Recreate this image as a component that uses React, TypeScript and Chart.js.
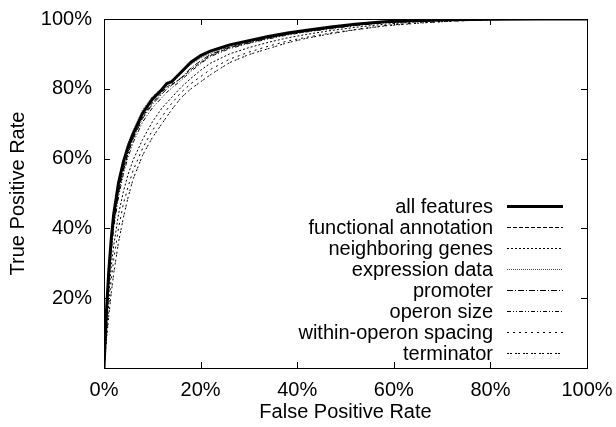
import React, { useEffect, useRef } from "react";
import { Chart, registerables } from "chart.js";

Chart.register(...registerables);

const FPR = [0, 0.5, 1, 1.5, 2, 3, 4, 5, 6, 8, 10, 12, 13, 14, 16, 18, 20, 22, 26, 30, 34, 38, 42, 47, 52, 58, 65, 72, 80, 90, 100];

const ALL_FEATURES = [0, 16, 28, 37, 44, 53, 59, 63.5, 67, 73, 77, 79.8, 81.5, 82, 84.8, 87.6, 89.5, 90.8, 92.6, 93.8, 95, 96, 96.8, 97.7, 98.5, 99.2, 99.6, 99.8, 99.9, 100, 100];
const FUNCTIONAL_ANNOTATION = [0, 14, 26, 35, 42, 51, 57, 62, 66, 72, 76, 79, 80.5, 81.3, 83, 85.5, 87.5, 89.5, 91.8, 93.2, 94.5, 95.6, 96.5, 97.4, 98.3, 99, 99.5, 99.8, 99.9, 100, 100];
const NEIGHBORING_GENES = [0, 11, 21, 29, 35, 44, 50.5, 55.5, 59.5, 65.5, 70.5, 74.5, 76, 77.5, 80.5, 83, 85.3, 87.3, 90, 91.8, 93.3, 94.6, 95.6, 96.7, 97.6, 98.5, 99.2, 99.6, 99.8, 100, 100];
const EXPRESSION_DATA = [0, 15, 27, 36, 43.5, 53, 59.5, 64.5, 68, 74, 77.8, 80.3, 81.8, 82.5, 84.5, 87, 88.8, 90.2, 92.2, 93.5, 94.8, 95.8, 96.6, 97.5, 98.4, 99.1, 99.5, 99.8, 99.9, 100, 100];
const PROMOTER = [0, 13, 25, 34, 41, 50, 56.5, 61.5, 65.5, 71.5, 75.5, 78.5, 80, 81, 83.2, 86, 88, 89.8, 92, 93.4, 94.6, 95.6, 96.5, 97.4, 98.2, 99, 99.4, 99.7, 99.9, 100, 100];
const OPERON_SIZE = [0, 12, 24, 33, 40, 49, 55.5, 60.5, 64.5, 70.5, 74.5, 77.5, 79, 80.2, 82.5, 85, 87.2, 89.2, 91.5, 93, 94.3, 95.4, 96.3, 97.2, 98.1, 98.9, 99.4, 99.7, 99.9, 100, 100];
const WITHIN_OPERON_SPACING = [0, 9, 18, 25.5, 31, 40, 47, 52, 56.5, 63, 68, 72, 74, 75.8, 79, 81.5, 83.5, 85.5, 88.5, 90.5, 92.2, 93.7, 94.8, 96, 97, 98.1, 98.9, 99.4, 99.8, 100, 100];
const TERMINATOR = [0, 8, 15, 21.5, 27, 36, 43, 49, 54, 61, 66, 70, 72, 74, 77.5, 80, 82, 84, 87.5, 89.8, 91.5, 93.2, 94.5, 95.8, 96.9, 98, 98.8, 99.4, 99.8, 100, 100];

const SERIES_LABELS = [
  "all features",
  "functional annotation",
  "neighboring genes",
  "expression data",
  "promoter",
  "operon size",
  "within-operon spacing",
  "terminator",
];
const SERIES_VALUES = [
  ALL_FEATURES,
  FUNCTIONAL_ANNOTATION,
  NEIGHBORING_GENES,
  EXPRESSION_DATA,
  PROMOTER,
  OPERON_SIZE,
  WITHIN_OPERON_SPACING,
  TERMINATOR,
];
const SERIES_DASH: number[][] = [
  [],
  [4, 2],
  [2, 2],
  [1, 1],
  [6, 2, 1, 2],
  [4, 2, 1, 2, 1, 2],
  [2, 4],
  [2, 1, 2, 3],
];
const SERIES_WIDTH = [3, 1, 1, 1, 1, 1, 1, 1];
const SERIES_COLOR = ["#000", "#000", "#000", "#444", "#000", "#000", "#000", "#000"];

const TICK_VALUES = [0, 20, 40, 60, 80, 100];

const FONT = "'Liberation Sans', Arial, sans-serif";

const framePlugin = {
  id: "frameTicks",
  afterDatasetsDraw(chart: any) {
    const { ctx, chartArea, scales } = chart;
    const { left, right, top, bottom } = chartArea;
    ctx.save();
    ctx.strokeStyle = "#000";
    ctx.lineWidth = 1;
    ctx.setLineDash([]);
    ctx.strokeRect(Math.round(left) + 0.5, Math.round(top) + 0.5, Math.round(right - left), Math.round(bottom - top));
    const tl = 6;
    ctx.beginPath();
    TICK_VALUES.forEach((v) => {
      if (v === 0 || v === 100) return;
      const x = Math.round(scales.x.getPixelForValue(v)) + 0.5;
      ctx.moveTo(x, bottom);
      ctx.lineTo(x, bottom - tl);
      ctx.moveTo(x, top);
      ctx.lineTo(x, top + tl);
      const y = Math.round(scales.y.getPixelForValue(v)) + 0.5;
      ctx.moveTo(left, y);
      ctx.lineTo(left + tl, y);
      ctx.moveTo(right, y);
      ctx.lineTo(right - tl, y);
    });
    ctx.stroke();

    // legend (gnuplot style: right-aligned text, sample on the right)
    const textRight = right - 94;
    const sampleL = right - 80;
    const sampleR = right - 24;
    const y0 = top + 187;
    const dy = 21;
    ctx.font = `20px ${FONT}`;
    ctx.fillStyle = "#000";
    ctx.textAlign = "right";
    ctx.textBaseline = "middle";
    chart.data.datasets.forEach((ds: any, i: number) => {
      const y = y0 + i * dy;
      ctx.fillText(ds.label, textRight, y + 1);
      ctx.beginPath();
      ctx.strokeStyle = ds.borderColor;
      ctx.lineWidth = ds.borderWidth;
      ctx.setLineDash(ds.borderDash || []);
      const yy = ds.borderWidth % 2 === 1 ? Math.round(y) + 0.5 : Math.round(y);
      ctx.moveTo(sampleL, yy);
      ctx.lineTo(sampleR, yy);
      ctx.stroke();
    });
    ctx.restore();
  },
};

export default function App() {
  const ref = useRef<HTMLCanvasElement | null>(null);
  useEffect(() => {
    document.body.style.margin = "0";
    const canvas = ref.current;
    if (!canvas) return;
    const chart = new Chart(canvas, {
      type: "line",
      data: {
        datasets: SERIES_LABELS.map((label, i) => ({
          label,
          data: FPR.map((x, j) => ({ x, y: SERIES_VALUES[i][j] })),
          borderColor: SERIES_COLOR[i],
          borderWidth: SERIES_WIDTH[i],
          borderDash: SERIES_DASH[i],
          pointRadius: 0,
          tension: 0,
          fill: false,
        })),
      },
      options: {
        animation: false,
        responsive: false,
        devicePixelRatio: 1,
        layout: { padding: { left: 0, right: 29, top: 19, bottom: 0 } },
        plugins: { legend: { display: false }, tooltip: { enabled: false } },
        scales: {
          x: {
            type: "linear",
            min: 0,
            max: 100,
            afterFit: (s: any) => { s.height = 59; s.paddingLeft = 0; s.paddingRight = 0; },
            afterBuildTicks: (s: any) => { s.ticks = TICK_VALUES.map((v) => ({ value: v })); },
            grid: { display: false, drawTicks: false },
            border: { display: false },
            ticks: {
              padding: 10,
              color: "#000",
              font: { family: FONT, size: 20 },
              maxRotation: 0,
              callback: (v: any) => `${v}%`,
            },
            title: {
              display: true,
              text: "False Positive Rate",
              color: "#000",
              font: { family: FONT, size: 20 },
              padding: { top: 0, bottom: 3 },
            },
          },
          y: {
            type: "linear",
            min: 0,
            max: 100,
            afterFit: (s: any) => { s.width = 104; s.paddingTop = 0; s.paddingBottom = 0; },
            afterBuildTicks: (s: any) => { s.ticks = TICK_VALUES.filter((v) => v !== 0).map((v) => ({ value: v })); },
            grid: { display: false, drawTicks: false },
            border: { display: false },
            ticks: {
              padding: 12,
              color: "#000",
              font: { family: FONT, size: 20 },
              callback: (v: any) => `${v}%`,
            },
            title: {
              display: true,
              text: "True Positive Rate",
              color: "#000",
              font: { family: FONT, size: 20 },
              padding: { top: 6, bottom: 0 },
            },
          },
        },
      },
      plugins: [framePlugin],
    });
    return () => chart.destroy();
  }, []);
  return (
    <div style={{ position: "absolute", left: 0, top: 0, width: 616, height: 427 }}>
      <canvas ref={ref} width={616} height={427} style={{ width: 616, height: 427 }} />
    </div>
  );
}
